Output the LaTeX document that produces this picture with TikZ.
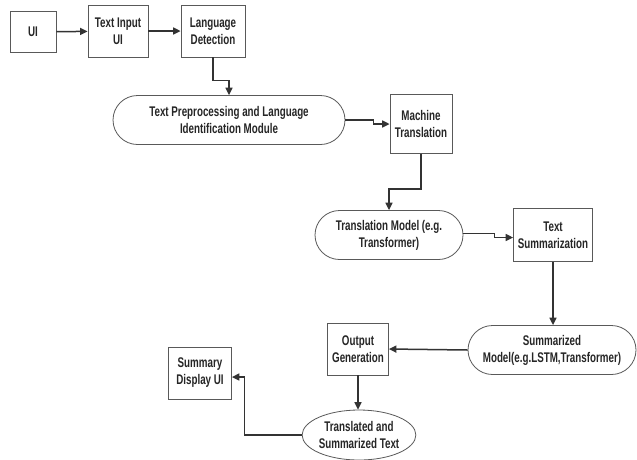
\documentclass[tikz,border=0pt]{standalone}
\usepackage{fontspec}
\usepackage{tikz}
\usetikzlibrary{arrows.meta}
\usetikzlibrary{shapes.misc}
\usetikzlibrary{shapes.geometric}

\newfontfamily\labelfont[FakeStretch=0.7]{Liberation Sans Bold}

\tikzset{
    box/.style={draw=black!65, line width=0.8pt, fill=white, inner sep=0pt, align=center,
        font=\labelfont\fontsize{14}{17}\selectfont, text=black!85},
    pill/.style={box, rounded rectangle, rounded rectangle arc length=180},
    oval/.style={box, ellipse},
    arr/.style={draw=black!80, line width=1.5pt, -{Triangle[length=7.5pt,width=7pt]}}
}

\begin{document}
\begin{tikzpicture}[x=1pt, y=-1pt]
    % Page size of the reference (pixels as points)
    \useasboundingbox (0,0) rectangle (637,459);

    % Top row of input steps
    \node[box, minimum width=46pt, minimum height=41pt] (ui) at (33,32) {UI};
    \node[box, minimum width=60pt, minimum height=52pt] (txtin) at (118,31) {Text Input\\UI};
    \node[box, minimum width=64pt, minimum height=52pt] (langdet) at (213,31) {Language\\Detection};

    % Preprocessing and translation
    \node[pill, minimum width=232pt, minimum height=49pt] (prep) at (229,120) {Text Preprocessing and Language\\Identification Module};
    \node[box, minimum width=62pt, minimum height=59pt] (mt) at (421,124) {Machine\\Translation};
    \node[pill, minimum width=148pt, minimum height=49pt] (tmodel) at (389,235) {Translation Model (e.g.\\Transformer)};
    \node[box, minimum width=79pt, minimum height=53pt] (ts) at (553,235) {Text\\Summarization};

    % Summarization and output
    \node[pill, minimum width=168pt, minimum height=49pt] (smodel) at (552,350) {Summarized\\Model(e.g.LSTM,Transformer)};
    \node[box, minimum width=61pt, minimum height=52pt] (og) at (358,349) {Output\\Generation};
    \node[oval, minimum width=104pt, minimum height=50pt] (tst) at (359,435) {Translated and\\Summarized Text};
    \node[box, minimum width=63pt, minimum height=52pt] (disp) at (200,373) {Summary\\Display UI};

    % Connectors
    \draw[arr] (ui) -- (txtin);
    \draw[arr] (txtin) -- (langdet);
    \draw[arr] (langdet.south) -- ++(0,23) -| (prep.north);
    \draw[arr] (prep.east) -- ++(28,0) |- (mt.west);
    \draw[arr] (mt.south) -- ++(0,35) -| (tmodel.north);
    \draw[arr] ([yshift=1.5pt]tmodel.east) -- ++(31,0) |- ([yshift=-2.5pt]ts.west);
    \draw[arr] (ts.south) -- (ts.south |- smodel.north);
    \draw[arr] (smodel.west) -- (og.east);
    \draw[arr] (og.south) -- (og.south |- tst.north);
    \draw[arr] (tst.west) -- ++(-57,0) |- ([yshift=-4pt]disp.east);
\end{tikzpicture}
\end{document}
